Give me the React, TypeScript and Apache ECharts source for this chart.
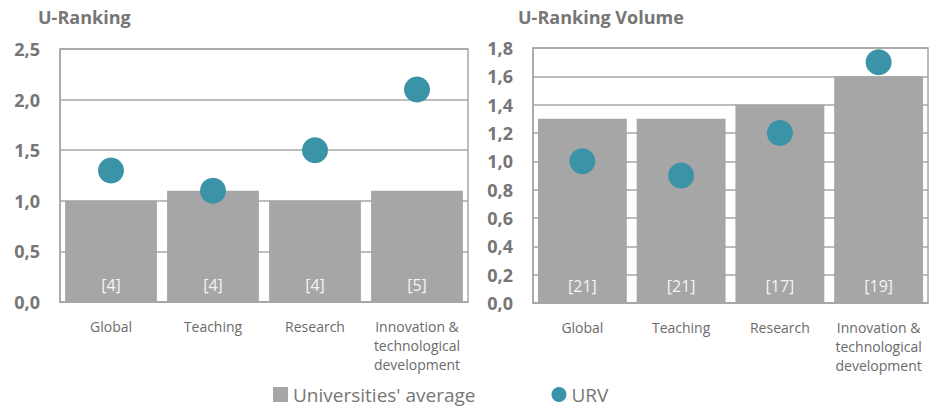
import React, { useEffect, useRef } from "react";
import * as echarts from "echarts";

const categories = ["Global", "Teaching", "Research", "Innovation &\ntechnological\ndevelopment"];
const avgRanking = [1.0, 1.1, 1.0, 1.1];
const urvRanking = [1.3, 1.1, 1.5, 2.1];
const countRanking = ["[4]", "[4]", "[4]", "[5]"];
const avgVolume = [1.3, 1.3, 1.4, 1.6];
const urvVolume = [1.0, 0.9, 1.2, 1.7];
const countVolume = ["[21]", "[21]", "[17]", "[19]"];
const titles = ["U-Ranking", "U-Ranking Volume"];
const seriesNames = ["Universities' average", "URV"];

const FONT = "'Open Sans', 'Noto Sans', sans-serif";
const BAR = "#a6a6a6";
const DOT = "#3b93a7";
const GRID = "#a6a6a6";
const TXT = "#767676";

export default function App() {
  const ref = useRef<HTMLDivElement>(null);
  useEffect(() => {
    if (!ref.current) return;
    const chart = echarts.init(ref.current, undefined, { renderer: "svg" });
    const fmt = (v: number) => v.toFixed(1).replace(".", ",");
    const xAxis = (i: number) => ({
      type: "category",
      gridIndex: i,
      data: categories,
      axisLine: { show: true, lineStyle: { color: GRID, width: 1.5 } },
      axisTick: { show: false },
      axisLabel: {
        interval: 0,
        color: "#6b6b6b",
        fontSize: 14,
        fontFamily: FONT,
        margin: 15,
        lineHeight: 19,
        verticalAlign: "top",
      },
    });
    const yAxis = (i: number, max: number, interval: number) => ({
      type: "value",
      gridIndex: i,
      min: 0,
      max,
      interval,
      axisLine: { show: true, lineStyle: { color: GRID, width: 1.5 } },
      axisTick: { show: false },
      splitLine: { show: true, lineStyle: { color: GRID, width: 1.5 } },
      axisLabel: {
        formatter: fmt,
        color: TXT,
        fontSize: 18,
        fontWeight: "bold",
        fontFamily: FONT,
        margin: 20,
      },
    });
    const barSeries = (i: number, data: number[], labels: string[]) => ({
      type: "bar",
      name: seriesNames[0],
      xAxisIndex: i,
      yAxisIndex: i,
      data,
      barCategoryGap: "10%",
      itemStyle: { color: BAR },
      label: {
        show: true,
        position: "insideBottom",
        distance: 9,
        formatter: (p: any) => labels[p.dataIndex],
        color: "#f4f4f4",
        fontSize: 16,
        fontFamily: FONT,
      },
    });
    const dotSeries = (i: number, data: number[]) => ({
      type: "scatter",
      name: seriesNames[1],
      xAxisIndex: i,
      yAxisIndex: i,
      data,
      symbol: "circle",
      symbolSize: 26,
      itemStyle: { color: DOT, opacity: 1 },
      z: 5,
    });
    chart.setOption({
      animation: false,
      textStyle: { fontFamily: FONT },
      title: [
        { text: titles[0], left: 33, top: 3, textStyle: { color: TXT, fontSize: 18, fontWeight: "bold", fontFamily: FONT } },
        { text: titles[1], left: 513, top: 3, textStyle: { color: TXT, fontSize: 18, fontWeight: "bold", fontFamily: FONT } },
      ],
      grid: [
        { left: 60, top: 49, width: 408, height: 253, show: true, borderColor: GRID, borderWidth: 1.5, backgroundColor: "transparent" },
        { left: 533, top: 48, width: 395, height: 255, show: true, borderColor: GRID, borderWidth: 1.5, backgroundColor: "transparent" },
      ],
      xAxis: [xAxis(0), xAxis(1)],
      yAxis: [yAxis(0, 2.5, 0.5), yAxis(1, 1.8, 0.2)],
      legend: {
        left: 273,
        top: 385,
        padding: 0,
        itemGap: 76,
        itemWidth: 15,
        itemHeight: 15,
        textStyle: { color: TXT, fontSize: 19, fontFamily: FONT },
        data: [
          { name: seriesNames[0], icon: "rect" },
          { name: seriesNames[1], icon: "circle" },
        ],
      },
      series: [
        barSeries(0, avgRanking, countRanking),
        dotSeries(0, urvRanking),
        barSeries(1, avgVolume, countVolume),
        dotSeries(1, urvVolume),
      ],
    });
    return () => chart.dispose();
  }, []);
  return <div ref={ref} style={{ width: 939, height: 411, position: "absolute", left: 0, top: 0 }} />;
}
